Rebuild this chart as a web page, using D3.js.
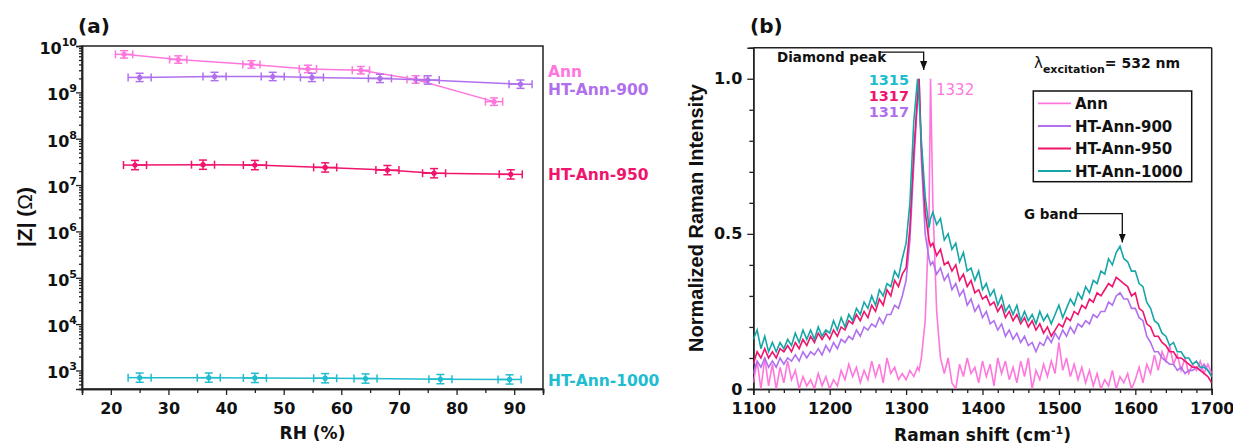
<!DOCTYPE html>
<html><head><meta charset="utf-8">
<script src="https://cdn.jsdelivr.net/npm/d3@7"></script>
<style>
body{margin:0;background:#fff;}
svg text{font-family:"DejaVu Sans",sans-serif;font-weight:bold;fill:#111;}
</style></head><body>
<svg id="chart" width="1233" height="448"></svg>
<script>
// ---------- Panel (a) data: |Z| vs RH ----------
const seriesNames = ["Ann", "HT-Ann-900", "HT-Ann-950", "HT-Ann-1000"];
const rhAnn  = [22.3, 31.7, 44.4, 54.2, 63.4, 72.9, 86.5];
const zAnn   = [6.6e9, 5.1e9, 4.0e9, 3.2e9, 3.0e9, 1.9e9, 6.3e8];
const rh900  = [25.0, 38.0, 48.1, 54.9, 66.7, 75.0, 91.1];
const z900   = [2.1e9, 2.2e9, 2.2e9, 2.1e9, 2.0e9, 1.85e9, 1.5e9];
const rh950  = [24.2, 36.0, 45.0, 57.2, 68.0, 76.1, 89.4];
const z950   = [2.7e7, 2.75e7, 2.7e7, 2.4e7, 2.1e7, 1.8e7, 1.7e7];
const rh1000 = [25.0, 37.0, 45.0, 57.2, 64.2, 77.2, 89.2];
const z1000  = [700, 700, 690, 680, 670, 650, 640];
const rhErr  = [1.5, 2.0, 2.0, 2.0];          // ± RH (%)
const zErrDec = [0.08, 0.09, 0.10, 0.10];     // ± decades
const xTicksA = [20, 30, 40, 50, 60, 70, 80, 90];
const yTicksA = [3, 4, 5, 6, 7, 8, 9, 10];    // exponents

// ---------- Panel (b) data: Raman spectra ----------
const ramanShift = [
1100,1105,1110,1115,1120,1125,1130,1135,1140,1145,
1150,1155,1160,1165,1170,1175,1180,1185,1190,1195,
1200,1205,1210,1215,1220,1225,1230,1235,1240,1245,
1250,1255,1260,1265,1270,1275,1280,1285,1290,1295,
1300,1305,1310,1315,1317,1320,1325,1330,1332,1335,
1340,1345,1350,1355,1360,1365,1370,1375,1380,1385,
1390,1395,1400,1405,1410,1415,1420,1425,1430,1435,
1440,1445,1450,1455,1460,1465,1470,1475,1480,1485,
1490,1495,1500,1505,1510,1515,1520,1525,1530,1535,
1540,1545,1550,1555,1560,1565,1570,1575,1580,1585,
1590,1595,1600,1605,1610,1615,1620,1625,1630,1635,
1640,1645,1650,1655,1660,1665,1670,1675,1680,1685,
1690,1695,1700];
const ramanAnn = [
0.02,0.09,0.00,0.10,0.01,0.08,0.00,0.07,0.02,0.09,
0.03,0.06,0.00,0.04,0.01,0.03,0.00,0.05,0.01,0.04,
0.00,0.03,0.01,0.06,0.03,0.08,0.04,0.07,0.02,0.06,
0.03,0.09,0.04,0.08,0.02,0.10,0.05,0.07,0.03,0.05,
0.03,0.06,0.04,0.07,0.06,0.10,0.22,0.55,1.00,0.60,
0.25,0.10,0.05,0.10,0.02,0.00,0.08,0.04,0.10,0.05,
0.07,0.02,0.09,0.04,0.08,0.01,0.10,0.05,0.09,0.03,
0.07,0.02,0.09,0.04,0.10,0.00,0.06,0.03,0.08,0.04,
0.09,0.05,0.15,0.06,0.10,0.04,0.08,0.03,0.07,0.02,
0.06,0.01,0.05,0.00,0.03,0.01,0.06,0.00,0.04,0.02,
0.05,0.00,0.03,0.07,0.02,0.08,0.05,0.11,0.06,0.12,
0.09,0.14,0.08,0.11,0.06,0.10,0.05,0.08,0.06,0.09,
0.05,0.08,0.05];
const raman900 = [
0.05,0.09,0.07,0.10,0.07,0.09,0.07,0.10,0.08,0.10,
0.09,0.11,0.09,0.12,0.10,0.12,0.11,0.13,0.11,0.14,
0.12,0.15,0.13,0.16,0.15,0.17,0.16,0.19,0.17,0.20,
0.19,0.21,0.20,0.23,0.21,0.24,0.24,0.27,0.26,0.30,
0.35,0.48,0.72,0.93,1.00,0.74,0.50,0.42,0.40,0.41,
0.37,0.39,0.35,0.37,0.32,0.34,0.30,0.32,0.27,0.29,
0.25,0.27,0.23,0.25,0.21,0.22,0.19,0.21,0.17,0.19,
0.16,0.18,0.15,0.17,0.14,0.15,0.12,0.15,0.14,0.17,
0.15,0.18,0.16,0.19,0.17,0.20,0.18,0.21,0.20,0.22,
0.21,0.24,0.23,0.25,0.25,0.28,0.27,0.30,0.31,0.29,
0.29,0.26,0.26,0.23,0.22,0.17,0.15,0.12,0.12,0.10,
0.09,0.08,0.08,0.06,0.07,0.05,0.06,0.06,0.07,0.06,
0.08,0.06,0.04];
const raman950 = [
0.08,0.12,0.10,0.13,0.10,0.12,0.10,0.13,0.12,0.14,
0.12,0.15,0.13,0.16,0.14,0.17,0.15,0.18,0.16,0.18,
0.16,0.19,0.17,0.20,0.19,0.22,0.21,0.24,0.22,0.25,
0.23,0.27,0.25,0.29,0.27,0.32,0.30,0.35,0.33,0.37,
0.39,0.52,0.76,0.95,1.00,0.78,0.57,0.48,0.46,0.47,
0.43,0.45,0.40,0.41,0.38,0.40,0.35,0.37,0.33,0.35,
0.31,0.32,0.29,0.30,0.27,0.28,0.25,0.27,0.23,0.25,
0.22,0.24,0.21,0.23,0.20,0.22,0.19,0.21,0.18,0.20,
0.17,0.19,0.21,0.20,0.23,0.22,0.25,0.24,0.27,0.26,
0.29,0.28,0.31,0.30,0.32,0.34,0.33,0.36,0.35,0.34,
0.33,0.30,0.31,0.26,0.25,0.21,0.20,0.17,0.17,0.15,
0.14,0.12,0.12,0.10,0.10,0.09,0.08,0.07,0.07,0.06,
0.05,0.04,0.02];
const raman1000 = [
0.16,0.19,0.13,0.17,0.12,0.15,0.12,0.15,0.13,0.16,
0.14,0.18,0.15,0.19,0.16,0.19,0.16,0.20,0.17,0.19,
0.18,0.22,0.19,0.23,0.20,0.24,0.22,0.26,0.24,0.28,
0.26,0.30,0.27,0.32,0.30,0.34,0.33,0.38,0.36,0.42,
0.47,0.60,0.86,1.00,0.93,0.80,0.62,0.52,0.55,0.57,
0.53,0.55,0.48,0.50,0.45,0.47,0.41,0.44,0.38,0.39,
0.35,0.38,0.32,0.34,0.30,0.32,0.27,0.30,0.25,0.27,
0.24,0.27,0.22,0.25,0.22,0.24,0.21,0.25,0.22,0.24,
0.21,0.24,0.27,0.23,0.26,0.29,0.27,0.31,0.29,0.33,
0.31,0.35,0.34,0.38,0.37,0.42,0.40,0.44,0.46,0.42,
0.41,0.38,0.38,0.34,0.33,0.28,0.26,0.22,0.21,0.18,
0.17,0.14,0.15,0.12,0.12,0.10,0.10,0.08,0.09,0.07,
0.07,0.06,0.04];
const peakLabels = ["1315", "1317", "1317"];
const annPeakLabel = "1332";
const xTicksB = [1100, 1200, 1300, 1400, 1500, 1600, 1700];
const yTicksB = [0, 0.5, 1.0];
const yTickLabelsB = ["0", "0.5", "1.0"];

const colorsA = ["#ff77dd", "#b070ee", "#f0146c", "#20bdd0"];
const colorsB = ["#ff77dd", "#b070ee", "#f0146c", "#17a6a8"];

// ---------- Setup ----------
const svg = d3.select("#chart");
const axisColor = "#222";
const tickFont = 16;

// ===== Panel (a) =====
const xA = d3.scaleLinear().domain([15, 95]).range([82, 543]);
const yA = d3.scaleLog().domain([Math.pow(10, 2.6), 1e10]).range([389, 46]);
const gA = svg.append("g");

gA.append("rect").attr("x", 82).attr("y", 46).attr("width", 461).attr("height", 343)
  .attr("fill", "none").attr("stroke", axisColor).attr("stroke-width", 1.5);

const xAxA = d3.axisBottom(xA).tickValues(xTicksA).tickSize(6).tickPadding(8).tickFormat(d3.format("d"));
const gxA = gA.append("g").attr("transform", "translate(0,389)").call(xAxA);
const xMinorA = d3.range(15, 96, 10);
gA.append("g").attr("transform", "translate(0,389)")
  .call(d3.axisBottom(xA).tickValues(xMinorA).tickSize(4).tickFormat(""));
const decs = yTicksA.map(e => Math.pow(10, e));
gA.append("g").attr("transform", "translate(82,0)")
  .call(d3.axisLeft(yA).tickValues(decs).tickSize(6).tickFormat(""));
const minorA = [];
for (let e = 2; e <= 9; e++) for (let m = 2; m <= 9; m++) {
  const v = m * Math.pow(10, e);
  if (v >= Math.pow(10, 2.6) && v <= 1e10) minorA.push(v);
}
gA.append("g").attr("transform", "translate(82,0)")
  .call(d3.axisLeft(yA).tickValues(minorA).tickSize(3).tickFormat(""));
gA.selectAll(".domain").attr("stroke", axisColor).attr("stroke-width", 1.5);
gA.selectAll(".tick line").attr("stroke", axisColor).attr("stroke-width", 1.3);
gxA.selectAll("text").attr("font-size", tickFont).attr("font-family", "DejaVu Sans").attr("font-weight", "bold").attr("fill", "#111");

const yLab = gA.append("g");
yTicksA.forEach(e => {
  const t = yLab.append("text").attr("x", 77).attr("y", yA(Math.pow(10, e)) + 8)
    .attr("text-anchor", "end").attr("font-size", tickFont);
  t.append("tspan").text("10");
  t.append("tspan").attr("dy", -8).attr("font-size", 11).text(e);
});

const dataA = [
  rhAnn.map((r, i) => [r, zAnn[i]]),
  rh900.map((r, i) => [r, z900[i]]),
  rh950.map((r, i) => [r, z950[i]]),
  rh1000.map((r, i) => [r, z1000[i]])
];
const lineA = d3.line().x(d => xA(d[0])).y(d => yA(d[1]));
dataA.forEach((pts, si) => {
  const c = colorsA[si];
  const g = gA.append("g");
  g.append("path").attr("d", lineA(pts)).attr("fill", "none").attr("stroke", c).attr("stroke-width", 1.5);
  pts.forEach(p => {
    const cx = xA(p[0]), cy = yA(p[1]);
    const x1 = xA(p[0] - rhErr[si]), x2 = xA(p[0] + rhErr[si]);
    const y1 = yA(p[1] * Math.pow(10, zErrDec[si])), y2 = yA(p[1] / Math.pow(10, zErrDec[si]));
    const segs = [
      [x1, cy, x2, cy], [x1, cy - 4, x1, cy + 4], [x2, cy - 4, x2, cy + 4],
      [cx, y1, cx, y2], [cx - 4, y1, cx + 4, y1], [cx - 4, y2, cx + 4, y2]
    ];
    segs.forEach(s => g.append("line").attr("x1", s[0]).attr("y1", s[1]).attr("x2", s[2]).attr("y2", s[3])
      .attr("stroke", c).attr("stroke-width", 1.5));
    g.append("circle").attr("cx", cx).attr("cy", cy).attr("r", 2.6).attr("fill", c);
  });
});

const labYA = [77, 95, 180, 386];
seriesNames.forEach((n, i) => {
  gA.append("text").attr("x", 548).attr("y", labYA[i]).attr("font-size", 15.5)
    .style("fill", colorsA[i]).text(n);
});

gA.append("text").attr("x", 78).attr("y", 33).attr("font-size", 20).text("(a)");
gA.append("text").attr("x", 312.5).attr("y", 439).attr("text-anchor", "middle").attr("font-size", 17).text("RH (%)");
const zl = gA.append("text").attr("transform", "translate(32,217) rotate(-90)").attr("text-anchor", "middle")
  .attr("font-size", 21).style("font-family", "Liberation Sans, Arial, sans-serif");
zl.append("tspan").text("|Z| (");
zl.append("tspan").style("font-weight", "normal").text("Ω");
zl.append("tspan").text(")");

// ===== Panel (b) =====
const xB = d3.scaleLinear().domain([1100, 1700]).range([753.3, 1211.7]);
const yB = d3.scaleLinear().domain([0, 1.1]).range([389, 47.7]);
const gB = svg.append("g");
gB.append("defs").append("clipPath").attr("id", "clipB").append("rect")
  .attr("x", 753.3).attr("y", 47.7).attr("width", 458.4).attr("height", 341.3);
gB.append("defs").append("marker").attr("id", "arrow").attr("viewBox", "0 0 10 10")
  .attr("refX", 10).attr("refY", 5).attr("markerWidth", 9).attr("markerHeight", 9)
  .attr("orient", "auto").attr("markerUnits", "userSpaceOnUse")
  .append("path").attr("d", "M0,1 L10,5 L0,9 Z").attr("fill", "#111");

const gxB = gB.append("g").attr("transform", "translate(0,389)")
  .call(d3.axisBottom(xB).tickValues(xTicksB).tickSize(6).tickPadding(8).tickFormat(d3.format("d")));
gB.append("g").attr("transform", "translate(0,389)")
  .call(d3.axisBottom(xB).tickValues(d3.range(1120, 1700, 20).filter(v => v % 100 !== 0)).tickSize(4).tickFormat(""));
const gyB = gB.append("g").attr("transform", "translate(753.3,0)")
  .call(d3.axisLeft(yB).tickValues(yTicksB).tickSize(6).tickPadding(5).tickFormat((d, i) => yTickLabelsB[i]));
gB.append("g").attr("transform", "translate(753.3,0)")
  .call(d3.axisLeft(yB).tickValues([0.1, 0.2, 0.3, 0.4, 0.6, 0.7, 0.8, 0.9]).tickSize(4).tickFormat(""));
gB.selectAll(".domain").attr("stroke", axisColor).attr("stroke-width", 1.5);
gB.selectAll(".tick line").attr("stroke", axisColor).attr("stroke-width", 1.3);
gB.selectAll(".tick text").attr("font-size", tickFont).attr("font-family", "DejaVu Sans").attr("font-weight", "bold").attr("fill", "#111");
gB.append("line").attr("x1", 753.3).attr("x2", 1211.7).attr("y1", 47.7).attr("y2", 47.7).attr("stroke", axisColor).attr("stroke-width", 1.5);
gB.append("line").attr("x1", 1211.7).attr("x2", 1211.7).attr("y1", 47.7).attr("y2", 389).attr("stroke", axisColor).attr("stroke-width", 1.5);

const spectra = [ramanAnn, raman900, raman950, raman1000];
const lineB = d3.line().x((d, i) => xB(ramanShift[i])).y(d => yB(d));
const gS = gB.append("g").attr("clip-path", "url(#clipB)");
spectra.forEach((s, i) => {
  gS.append("path").attr("d", lineB(s)).attr("fill", "none").attr("stroke", colorsB[i]).attr("stroke-width", 1.6);
});

const plY = [85, 101, 117];
const plCol = [colorsA[3], colorsA[2], colorsA[1]];
peakLabels.forEach((t, i) => {
  gB.append("text").attr("x", 909).attr("y", plY[i]).attr("text-anchor", "end").attr("font-size", 14.5)
    .style("fill", plCol[i]).text(t);
});
gB.append("text").attr("x", 936).attr("y", 95).attr("font-size", 15)
  .style("font-weight", "normal").style("fill", colorsA[0]).text(annPeakLabel);

gB.append("text").attr("x", 777).attr("y", 62).attr("font-size", 13.5).text("Diamond peak");
gB.append("path").attr("d", `M${879},${yB(1.086)} H${xB(1323)} V${yB(1.028)}`)
  .attr("fill", "none").attr("stroke", "#111").attr("stroke-width", 1.3).attr("marker-end", "url(#arrow)");
gB.append("text").attr("x", 1024).attr("y", 219).attr("font-size", 13.5).text("G band");
gB.append("path").attr("d", `M${1076},${yB(0.565)} H${xB(1583)} V${yB(0.472)}`)
  .attr("fill", "none").attr("stroke", "#111").attr("stroke-width", 1.3).attr("marker-end", "url(#arrow)");

const ex = gB.append("text").attr("x", 1034).attr("y", 68).attr("font-size", 15);
ex.append("tspan").style("font-weight", "normal").text("λ");
ex.append("tspan").attr("dy", 5).attr("font-size", 11).text("excitation");
ex.append("tspan").attr("dy", -5).attr("font-size", 14).text("= 532 nm");

gB.append("rect").attr("x", 1033.3).attr("y", 91).attr("width", 158.4).attr("height", 90.7)
  .attr("fill", "#fff").attr("stroke", "#111").attr("stroke-width", 1.5);
const legY = [103.3, 126, 148.5, 171];
seriesNames.forEach((n, i) => {
  gB.append("line").attr("x1", 1038).attr("x2", 1071).attr("y1", legY[i]).attr("y2", legY[i])
    .attr("stroke", colorsB[i]).attr("stroke-width", 1.8);
  gB.append("text").attr("x", 1075).attr("y", legY[i] + 5.5).attr("font-size", 15).text(n);
});

gB.append("text").attr("x", 750).attr("y", 33).attr("font-size", 20).text("(b)");
const xl = gB.append("text").attr("x", 982.5).attr("y", 441).attr("text-anchor", "middle").attr("font-size", 17);
xl.append("tspan").text("Raman shift (cm");
xl.append("tspan").attr("dy", -7).attr("font-size", 11).text("-1");
xl.append("tspan").attr("dy", 7).text(")");
gB.append("text").attr("transform", "translate(703,218) rotate(-90)").attr("text-anchor", "middle")
  .attr("font-size", 20).style("font-family", "Liberation Sans, Arial, sans-serif").text("Normalized Raman Intensity");
</script>
</body></html>
